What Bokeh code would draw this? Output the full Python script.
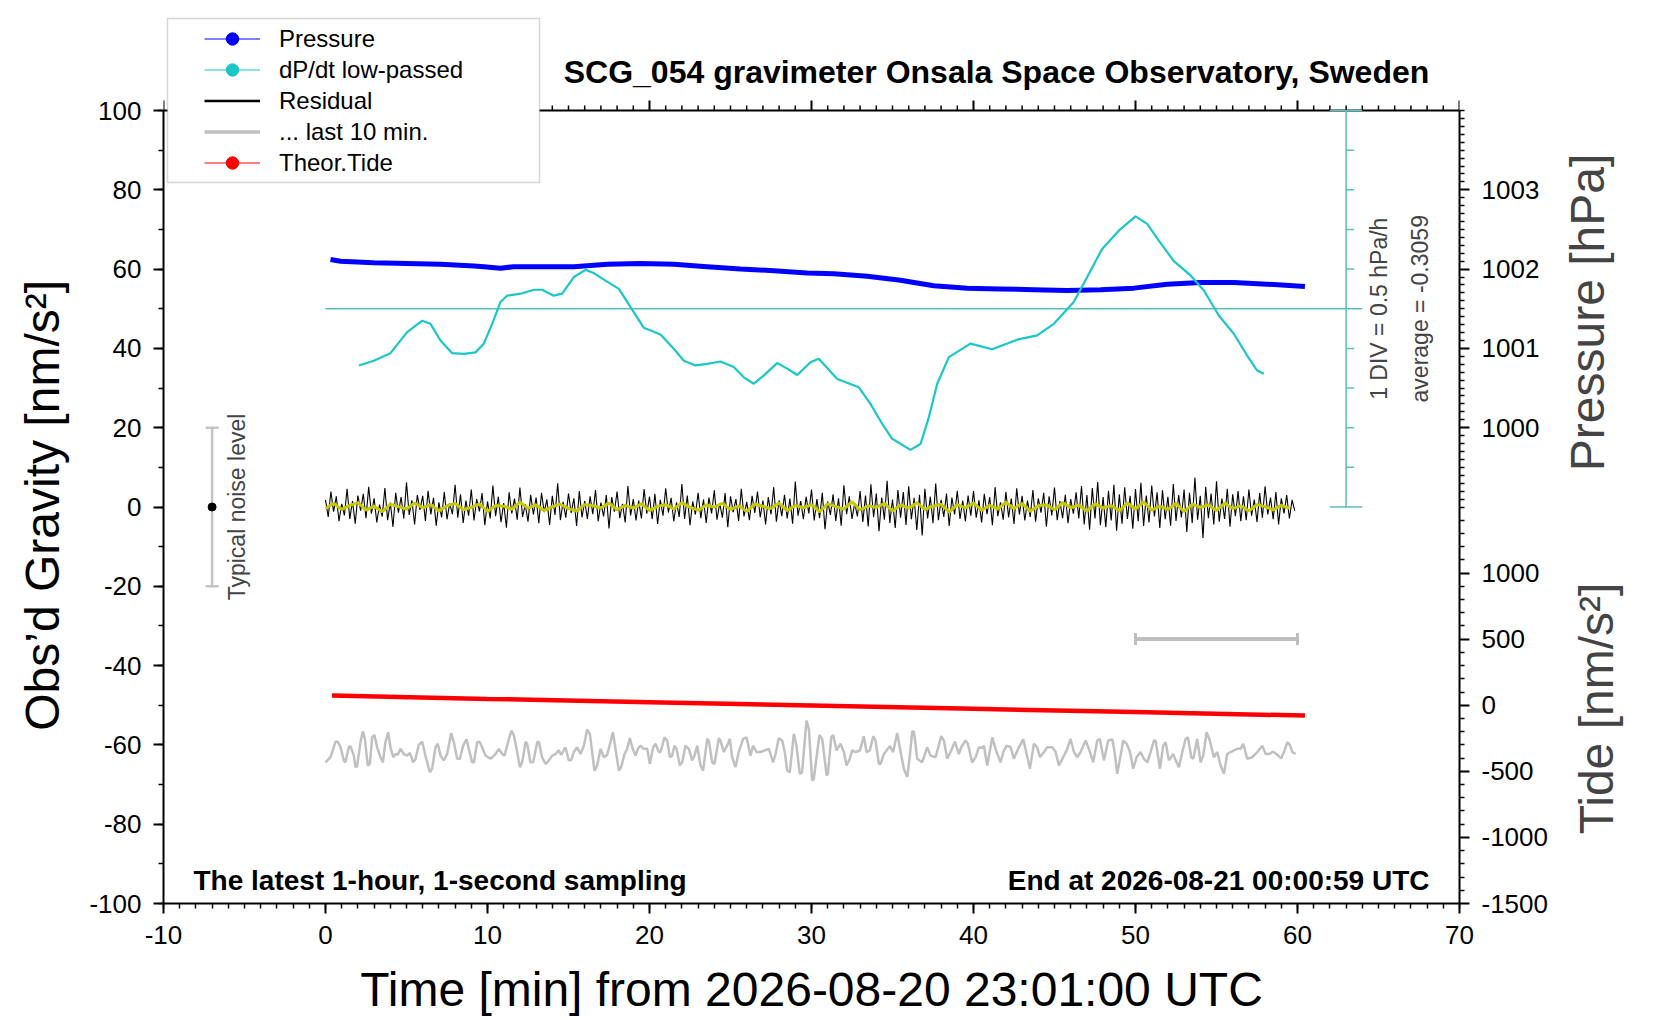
import math
import numpy as np
from bokeh.plotting import figure
from bokeh.layouts import row
from bokeh.models import (Range1d, LinearAxis, SingleIntervalTicker, FixedTicker,
                          CustomJSTickFormatter, Label, BoxAnnotation, Legend, LegendItem,
                          ColumnDataSource)
from bokeh.embed import file_html
from bokeh.resources import INLINE

FONT = "Liberation Sans"

# ---------------- data ----------------
title_text = "SCG_054 gravimeter Onsala Space Observatory, Sweden"
xlabel_text = "Time [min] from 2026-08-20 23:01:00 UTC"
ylabel_text = "Obs\u2019d Gravity [nm/s\u00b2]"
press_label_text = "Pressure [hPa]"
tide_label_text = "Tide [nm/s\u00b2]"
note_left = "The latest 1-hour, 1-second sampling"
note_right = "End at 2026-08-21 00:00:59 UTC"
legend_labels = ["Pressure", "dP/dt low-passed", "Residual", "... last 10 min.", "Theor.Tide"]

# pressure [hPa]
press_t = [0.31, 0.93, 2.98, 5.04, 7.10, 9.16, 9.77, 10.80, 11.6, 13.27, 15.33, 17.39, 19.44, 21.50,
           23.56, 25.62, 27.68, 29.73, 31.38, 33.44, 35.49, 37.55, 39.61, 41.67, 43.72, 45.78,
           47.84, 49.90, 51.95, 54.01, 56.07, 58.13, 60.46]
press_v = [1002.12, 1002.10, 1002.08, 1002.07, 1002.06, 1002.04, 1002.03, 1002.01, 1002.03, 1002.03,
           1002.03, 1002.06, 1002.07, 1002.06, 1002.03, 1002.00, 1001.98, 1001.95, 1001.94, 1001.91,
           1001.86, 1001.79, 1001.76, 1001.75, 1001.74, 1001.73, 1001.74, 1001.76, 1001.81, 1001.83,
           1001.83, 1001.81, 1001.78]

# dP/dt low-passed [hPa/h]
dpdt_avg = -0.3059
dpdt_div = 0.5
dpdt_t = [2.06, 2.98, 4.01, 5.04, 5.97, 6.48, 7.10, 7.82, 8.54, 9.26, 9.77, 10.29, 10.80, 11.21,
          12.04, 12.86, 13.37, 14.09, 14.61, 15.33, 16.05, 16.56, 17.28, 18.11, 18.83, 19.65,
          20.68, 21.50, 22.12, 22.84, 23.56, 24.38, 25.20, 25.82, 26.44, 27.06, 27.88, 28.50,
          29.12, 29.94, 30.45, 31.59, 32.92, 33.64, 34.36, 34.98, 36.11, 36.73, 37.24, 37.76,
          38.48, 39.81, 41.15, 42.70, 43.93, 44.96, 46.19, 47.02, 47.94, 48.97, 50.00, 50.72,
          51.44, 52.37, 53.40, 54.22, 55.14, 56.07, 56.89, 57.51, 57.92]
dpdt_v = [-1.021, -0.961, -0.866, -0.601, -0.456, -0.496, -0.706, -0.866, -0.876, -0.856, -0.746,
          -0.496, -0.221, -0.141, -0.116, -0.066, -0.066, -0.141, -0.116, 0.094, 0.184, 0.144,
          0.049, -0.056, -0.286, -0.546, -0.631, -0.811, -0.961, -1.021, -1.001, -0.971, -1.041,
          -1.171, -1.251, -1.146, -0.991, -1.061, -1.141, -0.981, -0.936, -1.191, -1.296, -1.506,
          -1.756, -1.946, -2.086, -2.011, -1.676, -1.251, -0.916, -0.746, -0.816, -0.696, -0.641,
          -0.496, -0.221, 0.094, 0.449, 0.679, 0.859, 0.764, 0.554, 0.294, 0.114, -0.076, -0.391,
          -0.621, -0.896, -1.086, -1.126]

# residual [nm/s^2], 10-second samples
res_step = 1.0 / 6.0
res_v = [1.8, -2.5, 3.9, -1.2, 2.7, -3.6, 0.8, -2.1, 4.6, -3.0, 1.5, -4.2, 2.9, -0.9, 3.3, -2.8, 5.1, -1.7, 2.2, -3.9,
         0.6, -2.4, 4.8, -3.3, 1.1, -5.0, 3.6, -1.4, 2.5, -2.9, 6.2, -2.0, 1.7, -4.4, 3.0, -0.7, 2.8, -3.5, 4.1, -1.9,
         2.3, -4.7, 1.2, -2.6, 3.8, -3.1, 0.9, -1.8, 5.6, -2.7, 3.2, -4.0, 1.6, -2.2, 4.4, -3.4, 2.0, -1.1, 3.5, -4.6,
         1.4, -2.9, 5.4, -2.3, 2.6, -3.8, 1.0, -5.2, 3.7, -1.6, 2.1, -3.2, 4.9, -2.5, 0.7, -3.7, 3.1, -1.9, 2.4, -4.1,
         3.6, -1.3, 1.9, -4.5, 2.8, -2.0, 6.0, -3.3, 1.3, -2.7, 3.4, -1.5, 2.2, -4.8, 4.0, -2.6, 1.5, -3.0, 2.7, -1.8,
         4.3, -3.6, 1.1, -2.4, 3.0, -5.4, 2.5, -1.2, 3.9, -2.8, 0.8, -3.9, 5.3, -2.1, 2.0, -3.4, 1.6, -2.9, 4.5, -1.7,
         2.6, -3.1, 3.3, -4.3, 1.8, -2.2, 4.7, -1.4, 2.3, -3.6, 1.2, -2.5, 5.8, -3.0, 2.9, -4.6, 1.4, -1.9, 3.6, -2.8,
         1.9, -4.0, 2.4, -1.6, 4.2, -3.2, 1.0, -2.7, 3.5, -5.1, 2.7, -1.3, 2.0, -3.5, 4.6, -2.4, 1.3, -3.3, 2.8, -1.5,
         3.9, -2.6, 1.6, -4.4, 2.5, -1.9, 5.0, -3.7, 1.7, -2.3, 3.1, -2.9, 2.1, -4.2, 6.4, -2.2, 1.5, -3.1, 2.6, -1.6,
         4.4, -3.4, 2.0, -2.8, 3.6, -5.6, 1.4, -2.0, 3.2, -3.5, 2.2, -4.7, 5.5, -1.8, 2.7, -3.0, 1.0, -2.4, 4.0, -3.8,
         2.9, -4.9, 5.7, -2.6, 3.4, -6.1, 2.4, -3.2, 6.6, -4.0, 1.9, -5.3, 4.3, -2.7, 3.8, -4.5, 5.2, -3.1, 2.3, -5.8,
         3.1, -7.2, 4.6, -2.9, 2.6, -4.1, 5.9, -3.3, 1.8, -2.5, 3.4, -4.8, 2.4, -1.9, 4.1, -3.0, 1.6, -3.6, 2.9, -2.2,
         4.0, -2.7, 1.7, -3.9, 3.3, -1.8, 2.5, -4.6, 5.0, -2.3, 1.2, -3.2, 3.8, -2.6, 2.1, -4.3, 4.7, -1.9, 2.8, -3.4,
         1.6, -2.5, 4.3, -3.7, 2.2, -1.4, 3.6, -5.0, 2.7, -2.1, 4.9, -3.3, 1.5, -2.8, 3.1, -4.1, 2.0, -1.7, 3.7, -2.9,
         5.3, -4.4, 3.0, -5.7, 4.8, -2.9, 6.3, -4.6, 2.5, -5.1, 4.1, -3.4, 5.6, -6.0, 3.2, -4.2, 5.0, -3.0, 2.8, -5.5,
         4.5, -3.6, 6.1, -4.8, 2.9, -3.9, 5.4, -2.4, 3.7, -5.3, 4.2, -3.1, 2.6, -4.7, 5.8, -3.5, 3.0, -2.6, 4.4, -6.3,
         3.6, -4.0, 7.4, -3.2, 2.8, -7.8, 5.1, -2.8, 3.4, -4.4, 6.5, -3.7, 2.1, -3.0, 4.6, -5.0, 3.2, -2.3, 4.0, -3.6,
         2.7, -3.3, 4.4, -2.2, 1.9, -3.8, 3.5, -2.7, 5.2, -1.9, 2.4, -3.1, 3.8, -4.4, 2.2, -1.6, 3.0, -2.9, 1.8, -1.0]

# smoothed residual (yellow), 30-second samples
smooth_step = 0.5
smooth_v = [-0.3, 0.9, -0.6, 0.4, 1.1, -0.8, 0.2, -1.2, 0.7, 0.1, -0.5, 1.0, -0.2, 0.6, -1.0, 0.3, 0.9, -0.7, -0.1, 0.8,
            -1.1, 0.4, 0.2, -0.6, 1.2, -0.3, 0.5, -0.9, 0.1, 0.7, -0.4, -1.0, 0.6, 0.3, -0.2, 1.0, -0.7, 0.4, -0.3, 0.8,
            -0.9, 0.2, 0.6, -0.5, 1.1, -0.1, -0.8, 0.5, 0.0, 0.9, -0.6, 0.3, -1.1, 0.7, 0.2, -0.4, 1.0, -0.9, 0.4, -0.2,
            0.6, -1.2, 0.8, 0.1, -0.5, 1.3, -0.7, 0.3, -0.1, 0.9, -1.0, 0.5, -0.3, 1.1, -0.6, 0.2, 0.7, -1.3, 0.6, -0.2,
            1.0, -0.8, 0.4, -0.5, 1.2, -0.4, 0.9, -1.1, 0.3, 0.6, -0.7, 1.1, -0.2, 0.5, -1.0, 0.8, -0.3, 0.4, -0.9, 1.0,
            -0.5, 1.3, -0.8, 0.2, -0.6, 0.9, -1.2, 0.7, -0.1, 0.5, -0.9, 1.0, -0.4, 0.3, -1.0, 0.6, 0.1, -0.7, 0.4, -0.3]

# last 10 minutes of residual, stretched over the hour (gray)
gray_t = [0.00, 0.31, 0.62, 0.76, 0.93, 1.13, 1.23, 1.44, 1.54, 1.75, 1.85, 1.95, 2.16, 2.30, 2.43, 2.61, 2.74,
          2.88, 3.02, 3.19, 3.39, 3.54, 3.70, 3.87, 4.01, 4.18, 4.32, 4.46, 4.63, 4.84, 5.04, 5.21, 5.41,
          5.56, 5.76, 5.97, 6.17, 6.44, 6.58, 6.79, 6.93, 7.10, 7.30, 7.51, 7.76, 7.92, 8.13, 8.29, 8.50,
          8.70, 8.85, 9.05, 9.16, 9.36, 9.51, 9.67, 9.88, 10.19, 10.49, 10.70, 10.91, 11.05, 11.32, 11.48,
          11.63, 11.83, 12.00, 12.14, 12.35, 12.45, 12.65, 12.82, 13.07, 13.17, 13.37, 13.58, 13.79, 13.99,
          14.20, 14.40, 14.55, 14.81, 15.02, 15.16, 15.33, 15.53, 15.74, 15.95, 16.15, 16.32, 16.46, 16.60,
          16.77, 16.98, 17.18, 17.39, 17.59, 17.74, 17.90, 18.11, 18.25, 18.46, 18.62, 18.79, 18.93, 19.14,
          19.28, 19.44, 19.65, 19.86, 20.02, 20.23, 20.37, 20.58, 20.68, 20.93, 21.09, 21.26, 21.40, 21.54,
          21.67, 21.87, 22.02, 22.22, 22.43, 22.63, 22.78, 22.94, 23.15, 23.31, 23.56, 23.66, 23.87, 24.01,
          24.28, 24.38, 24.59, 24.79, 24.96, 25.10, 25.31, 25.51, 25.78, 25.99, 26.23, 26.40, 26.60, 26.85,
          27.10, 27.37, 27.63, 27.78, 27.98, 28.19, 28.35, 28.50, 28.66, 28.91, 29.07, 29.28, 29.42, 29.69,
          29.84, 30.04, 30.14, 30.49, 30.66, 30.76, 30.93, 31.01, 31.22, 31.34, 31.55, 31.79, 32.00, 32.16,
          32.37, 32.51, 32.72, 32.99, 33.23, 33.40, 33.60, 33.81, 33.95, 34.16, 34.26, 34.47, 34.84, 35.04,
          35.29, 35.50, 35.70, 35.91, 36.07, 36.22, 36.32, 36.53, 36.83, 37.14, 37.35, 37.66, 38.01, 38.17,
          38.38, 38.58, 38.85, 39.10, 39.24, 39.51, 39.65, 39.92, 40.13, 40.33, 40.54, 40.64, 40.85, 41.16,
          41.36, 41.67, 41.84, 42.04, 42.29, 42.49, 42.80, 43.07, 43.28, 43.48, 43.73, 43.93, 44.10, 44.35,
          44.55, 44.86, 45.07, 45.27, 45.54, 45.79, 45.99, 46.20, 46.40, 46.61, 46.92, 47.19, 47.39, 47.64,
          47.80, 48.05, 48.32, 48.57, 48.71, 48.87, 49.08, 49.24, 49.45, 49.66, 49.86, 50.07, 50.31, 50.52,
          50.73, 50.93, 51.14, 51.24, 51.51, 51.71, 51.86, 52.06, 52.33, 52.48, 52.68, 52.89, 53.09, 53.24,
          53.44, 53.57, 53.81, 54.02, 54.18, 54.39, 54.59, 54.84, 55.05, 55.25, 55.46, 55.66, 55.87, 56.08,
          56.28, 56.49, 56.65, 56.90, 57.21, 57.52, 57.83, 58.03, 58.24, 58.50, 58.75, 59.00, 59.16, 59.37,
          59.53, 59.68, 59.88]
gray_v = [-64.4, -63.1, -59.2, -59.2, -60.6, -63.9, -64.4, -60.6, -60.3, -62.7, -65.6, -65.4, -59.3, -56.6, -58.5,
          -65.2, -64.8, -58.1, -57.5, -60.6, -63.1, -64.4, -59.3, -56.8, -60.6, -63.1, -62.3, -62.5, -61.0, -62.3,
          -62.7, -62.0, -64.4, -63.5, -60.0, -59.2, -62.7, -66.9, -66.0, -60.6, -59.7, -62.7, -63.9, -62.3, -57.0,
          -59.3, -63.5, -63.5, -60.2, -58.6, -61.0, -64.4, -64.4, -59.3, -59.2, -60.6, -62.7, -63.5, -62.3, -61.0,
          -62.3, -62.7, -58.5, -56.4, -57.6, -61.8, -65.6, -64.4, -59.2, -59.7, -64.4, -64.4, -59.3, -59.2, -63.1,
          -64.8, -63.9, -62.7, -62.3, -61.4, -62.5, -60.6, -63.9, -63.9, -61.8, -60.6, -62.3, -60.2, -56.1, -57.2,
          -61.8, -66.5, -65.2, -61.0, -63.1, -62.5, -59.3, -56.8, -61.0, -66.5, -65.6, -62.3, -61.0, -58.3, -60.6,
          -62.7, -61.0, -60.2, -61.0, -61.0, -64.8, -60.6, -59.7, -61.8, -61.8, -58.1, -58.9, -63.1, -62.7, -60.2,
          -61.0, -65.2, -64.4, -60.2, -61.0, -63.9, -62.7, -60.2, -65.2, -66.5, -58.5, -58.9, -64.4, -64.8, -58.3,
          -58.9, -61.8, -60.2, -58.5, -63.1, -65.6, -61.8, -58.5, -58.1, -62.7, -60.2, -61.8, -61.8, -61.4, -61.0,
          -64.4, -62.3, -58.3, -58.9, -61.8, -66.5, -66.9, -57.2, -60.2, -67.3, -66.9, -53.9, -56.0, -69.0, -68.6,
          -57.5, -58.5, -61.8, -67.7, -67.3, -58.1, -57.5, -61.4, -59.7, -61.8, -65.2, -63.5, -61.4, -61.8, -61.4,
          -57.8, -61.8, -61.4, -57.8, -58.9, -64.8, -64.8, -62.3, -60.3, -61.8, -57.0, -61.8, -66.0, -68.1, -62.7,
          -56.6, -56.6, -63.5, -64.4, -60.6, -62.7, -63.1, -57.8, -58.9, -63.5, -61.8, -59.2, -62.3, -60.6, -58.9,
          -59.7, -64.4, -63.1, -60.6, -60.8, -60.2, -65.2, -58.1, -61.0, -64.4, -61.8, -60.2, -60.6, -63.5, -60.6,
          -58.6, -62.3, -66.0, -59.7, -60.6, -63.1, -61.8, -60.6, -60.6, -61.8, -65.2, -63.1, -61.0, -58.5, -61.8,
          -63.1, -61.8, -58.9, -61.8, -64.4, -58.9, -58.5, -63.9, -58.9, -58.6, -61.8, -67.3, -62.7, -58.9, -59.7,
          -61.8, -66.0, -63.1, -61.8, -63.5, -64.4, -61.8, -58.9, -58.9, -66.0, -60.2, -59.3, -63.9, -62.3, -63.9,
          -65.6, -61.8, -58.5, -58.1, -63.1, -63.5, -58.5, -64.4, -62.7, -56.8, -58.9, -63.1, -61.8, -65.2, -67.3,
          -62.3, -61.8, -61.4, -61.0, -61.0, -59.7, -63.5, -63.1, -61.8, -60.2, -62.3, -62.3, -61.7, -62.5, -63.4,
          -61.8, -59.3, -60.0, -61.8, -62.3]

# theoretical tide [nm/s^2]
tide_t = [0.4, 10.0, 20.0, 30.0, 40.0, 50.0, 60.46]
tide_v = [73, 48, 23, -2, -27, -52, -78]

# annotation values
noise_t, noise_half = -7.0, 20.0
last10_t = [50.0, 60.0]
last10_level = -33.3
scale_t = 63.0
dpdt_level = 50.0        # left-axis level of the dP/dt average line
div_left = 10.0          # left-axis units per DIV

# axis ranges / ticks
x_lim = (-10, 70)
y_lim = (-100, 100)
press_lim = (994, 1004)
tide_lim = (-1500, 4500)
press_ticks = [1000, 1001, 1002, 1003]
tide_ticks = [-1500, -1000, -500, 0, 500, 1000]
press_split = 999.0
tide_top = 1500

# ---------------- layout (pixels) ----------------
LEFT, PLOT_W, PLOT_H, TOP_EXTRA = 163, 1296, 793, 110
RIGHT_PANEL = 96
CANVAS_W, CANVAS_H = 1644, 1012
SIDE_W = CANVAS_W - LEFT - PLOT_W - RIGHT_PANEL
ext = TOP_EXTRA / PLOT_H          # frame extends above the plot box to hold title & legend


def extend(lo, hi):
    return Range1d(lo, hi + (hi - lo) * ext)


p = figure(frame_width=PLOT_W, frame_height=PLOT_H + TOP_EXTRA,
           min_border_left=LEFT, min_border_top=0, min_border_right=RIGHT_PANEL,
           min_border_bottom=CANVAS_H - PLOT_H - TOP_EXTRA,
           x_range=Range1d(*x_lim), y_range=extend(*y_lim),
           output_backend="svg", toolbar_location=None, title=None,
           background_fill_color="white", border_fill_color="white")
p.grid.visible = False
p.outline_line_color = None

d_lo = dpdt_avg + (y_lim[0] - dpdt_level) / div_left * dpdt_div
d_hi = dpdt_avg + (y_lim[1] - dpdt_level) / div_left * dpdt_div
p.extra_y_ranges = {"press": extend(*press_lim), "tide": extend(*tide_lim), "dpdt": extend(d_lo, d_hi)}

int_fmt = CustomJSTickFormatter(code="return tick.toFixed(0);")


def style_axis(ax, label_standoff):
    ax.axis_line_width = 2
    ax.axis_line_color = "black"
    ax.major_tick_line_width = 2
    ax.minor_tick_line_width = 1.5
    ax.major_tick_out = 10
    ax.major_tick_in = 0
    ax.minor_tick_out = 5
    ax.minor_tick_in = 0
    ax.major_label_text_font = FONT
    ax.major_label_text_font_size = "26px"
    ax.major_label_text_color = "black"
    ax.major_label_standoff = label_standoff
    ax.axis_label_text_font = FONT
    ax.axis_label_text_font_style = "normal"
    ax.axis_label_text_color = "black"


xax = p.xaxis[0]
xax.ticker = SingleIntervalTicker(interval=10, num_minor_ticks=10)
xax.formatter = int_fmt
style_axis(xax, 12)
xax.axis_label = xlabel_text
xax.axis_label_text_font_size = "48px"
xax.axis_label_standoff = 16

yax = p.yaxis[0]
yax.ticker = SingleIntervalTicker(interval=20, num_minor_ticks=2)
yax.formatter = int_fmt
yax.bounds = y_lim
style_axis(yax, 12)
# the frame reaches above the plot box, so pad the label's end to centre it on the box
yax.axis_label = ylabel_text + "\u00a0" * 8
yax.axis_label_text_font_size = "48px"
yax.axis_label_standoff = 17


def p_of_tide(v):
    return press_lim[0] + (v - tide_lim[0]) / (tide_lim[1] - tide_lim[0]) * (press_lim[1] - press_lim[0])


major_pos = [float(v) for v in press_ticks] + [p_of_tide(v) for v in tide_ticks]
minor_press = [round(v, 2) for v in np.arange(press_split, press_lim[1] + 0.001, 0.1)
               if abs(v - round(v)) > 1e-6 or round(v) not in press_ticks]
minor_tide = [p_of_tide(v) for v in range(tide_ticks[0], tide_top + 1, 100) if v not in tide_ticks]
right = LinearAxis(y_range_name="press", bounds=press_lim,
                   ticker=FixedTicker(ticks=major_pos, minor_ticks=minor_press + minor_tide),
                   formatter=CustomJSTickFormatter(
                       args=dict(p0=press_lim[0], p1=press_lim[1], t0=tide_lim[0], t1=tide_lim[1],
                                 split=press_split),
                       code="""
if (tick >= split - 1e-6) { return tick.toFixed(0); }
const v = t0 + (tick - p0) / (p1 - p0) * (t1 - t0);
return Math.round(v).toFixed(0);
"""))
style_axis(right, 12)
p.add_layout(right, "right")

# top edge of the plot box with its ticks
px_per_unit = PLOT_H / (y_lim[1] - y_lim[0])
top_major = list(range(x_lim[0], x_lim[1] + 1, 10))
top_minor = [v for v in range(x_lim[0], x_lim[1] + 1) if v not in top_major]
p.segment(x0=[x_lim[0]], y0=[y_lim[1]], x1=[x_lim[1]], y1=[y_lim[1]], line_color="black", line_width=2)
p.segment(x0=top_major, y0=[y_lim[1]] * len(top_major), x1=top_major,
          y1=[y_lim[1] + 10 / px_per_unit] * len(top_major), line_color="black", line_width=2)
p.segment(x0=top_minor, y0=[y_lim[1]] * len(top_minor), x1=top_minor,
          y1=[y_lim[1] + 5 / px_per_unit] * len(top_minor), line_color="black", line_width=1.5)

# ---------------- glyphs ----------------
res_t = [i * res_step for i in range(len(res_v))]
smooth_t = [i * smooth_step for i in range(len(smooth_v))]

p.line(gray_t, gray_v, line_color="#C0C0C0", line_width=2.5)
p.line(tide_t, tide_v, y_range_name="tide", line_color="#FF0000", line_width=4.5)
p.line(res_t, res_v, line_color="black", line_width=1.1)
p.line(smooth_t, smooth_v, line_color="#C8C800", line_width=3)

# last-10-min marker bar
bar_cap = 1.5
p.segment(x0=[last10_t[0]], y0=[last10_level], x1=[last10_t[1]], y1=[last10_level],
          line_color="#BEBEBE", line_width=4)
p.segment(x0=last10_t, y0=[last10_level - bar_cap] * 2, x1=last10_t, y1=[last10_level + bar_cap] * 2,
          line_color="#BEBEBE", line_width=3)

# typical noise level bar
cap_w = 0.4
p.segment(x0=[noise_t], y0=[-noise_half], x1=[noise_t], y1=[noise_half], line_color="#C4C4C4", line_width=2.5)
p.segment(x0=[noise_t - cap_w] * 2, y0=[-noise_half, noise_half], x1=[noise_t + cap_w] * 2,
          y1=[-noise_half, noise_half], line_color="#C4C4C4", line_width=2.5)
p.scatter([noise_t], [0], size=8, color="black")

# dP/dt scale
scale_col = "#5BBFBA"
p.segment(x0=[0.0], y0=[dpdt_avg], x1=[scale_t + 1.0], y1=[dpdt_avg], y_range_name="dpdt",
          line_color=scale_col, line_width=1.5)
p.segment(x0=[scale_t], y0=[dpdt_avg - 5 * dpdt_div], x1=[scale_t], y1=[dpdt_avg + 5 * dpdt_div],
          y_range_name="dpdt", line_color=scale_col, line_width=1.5)
ks_short = [k for k in range(-4, 5) if k != 0]
p.segment(x0=[scale_t] * len(ks_short), y0=[dpdt_avg + k * dpdt_div for k in ks_short],
          x1=[scale_t + 0.5] * len(ks_short), y1=[dpdt_avg + k * dpdt_div for k in ks_short],
          y_range_name="dpdt", line_color=scale_col, line_width=1.5)
p.segment(x0=[scale_t - 1.0] * 2, y0=[dpdt_avg - 5 * dpdt_div, dpdt_avg + 5 * dpdt_div],
          x1=[scale_t + 1.0] * 2, y1=[dpdt_avg - 5 * dpdt_div, dpdt_avg + 5 * dpdt_div],
          y_range_name="dpdt", line_color=scale_col, line_width=1.5)

p.line(press_t, press_v, y_range_name="press", line_color="#0000FF", line_width=5)
p.line(dpdt_t, dpdt_v, y_range_name="dpdt", line_color="#1BC6C6", line_width=2.2)

# ---------------- text ----------------
def screen_label(text, x, y, size, bold=False, align="left", baseline="alphabetic", angle=0.0):
    return Label(x=x, y=y, x_units="screen", y_units="screen", text=text, text_font=FONT,
                 text_font_size=size, text_font_style="bold" if bold else "normal",
                 text_align=align, text_baseline=baseline, angle=angle, text_color="black")


p.add_layout(Label(x=-5.47, y=0, text="Typical noise level", text_font=FONT, text_font_size="23px",
                   text_align="center", text_baseline="alphabetic", angle=math.pi / 2))
p.add_layout(Label(x=65.03, y=dpdt_level, text=f"1 DIV = {dpdt_div} hPa/h", text_font=FONT,
                   text_font_size="23px", text_align="center", text_baseline="alphabetic",
                   angle=math.pi / 2))
p.add_layout(Label(x=67.58, y=dpdt_level, text=f"average = {dpdt_avg:.4f}", text_font=FONT,
                   text_font_size="23px", text_align="center", text_baseline="alphabetic",
                   angle=math.pi / 2))

p.add_layout(screen_label(title_text, 833, 832, "32px", bold=True, align="center"))
p.add_layout(screen_label(note_left, 30, 23.5, "28px", bold=True, align="left"))
p.add_layout(screen_label(note_right, 1266, 23.5, "28px", bold=True, align="right"))

# ---------------- legend ----------------
nan_src = ColumnDataSource(data=dict(x=[float("nan")], y=[float("nan")]))
lg_p_l = p.line("x", "y", source=nan_src, line_color="#0000FF", line_width=1)
lg_p_m = p.scatter("x", "y", source=nan_src, size=8, color="#0000FF")
lg_d_l = p.line("x", "y", source=nan_src, line_color="#1BC6C6", line_width=1)
lg_d_m = p.scatter("x", "y", source=nan_src, size=8, color="#1BC6C6")
lg_r_l = p.line("x", "y", source=nan_src, line_color="black", line_width=2.5)
lg_g_l = p.line("x", "y", source=nan_src, line_color="#C0C0C0", line_width=3.5)
lg_t_l = p.line("x", "y", source=nan_src, line_color="#FF0000", line_width=1)
lg_t_m = p.scatter("x", "y", source=nan_src, size=8, color="#FF0000")

box = BoxAnnotation(left=4, right=376, bottom=721, top=885,
                    left_units="screen", right_units="screen", top_units="screen", bottom_units="screen",
                    fill_color="white", fill_alpha=1.0, line_color="#777777", line_width=1.5)
p.add_layout(box)

legend = Legend(items=[LegendItem(label=legend_labels[0], renderers=[lg_p_l, lg_p_m]),
                       LegendItem(label=legend_labels[1], renderers=[lg_d_l, lg_d_m]),
                       LegendItem(label=legend_labels[2], renderers=[lg_r_l]),
                       LegendItem(label=legend_labels[3], renderers=[lg_g_l]),
                       LegendItem(label=legend_labels[4], renderers=[lg_t_l, lg_t_m])],
                location=(41, 725), padding=0, spacing=0, margin=0,
                glyph_width=56, glyph_height=31, label_height=31, label_standoff=19,
                label_text_font=FONT, label_text_font_size="24px", label_text_color="black",
                border_line_color=None, background_fill_alpha=0.0)
p.add_layout(legend)

# ---------------- right-hand axis titles (narrow companion canvas) ----------------
side = figure(width=SIDE_W, height=CANVAS_H, x_range=Range1d(0, 1), y_range=Range1d(0, 1),
              min_border=0, x_axis_location=None, y_axis_location=None,
              toolbar_location=None, output_backend="svg",
              background_fill_color="white", border_fill_color="white")
side.grid.visible = False
side.outline_line_color = None
base_x = LEFT + PLOT_W + RIGHT_PANEL
side.add_layout(Label(x=1587 - base_x, y=585, x_units="screen", y_units="screen",
                      text=press_label_text, text_font=FONT, text_font_size="48px",
                      text_align="center", text_baseline="alphabetic", angle=math.pi / 2))
side.add_layout(Label(x=1596 - base_x, y=189, x_units="screen", y_units="screen",
                      text=tide_label_text, text_font=FONT, text_font_size="48px",
                      text_align="center", text_baseline="alphabetic", angle=math.pi / 2))

layout = row(p, side)
open("out.html", "w").write(file_html(layout, INLINE))
